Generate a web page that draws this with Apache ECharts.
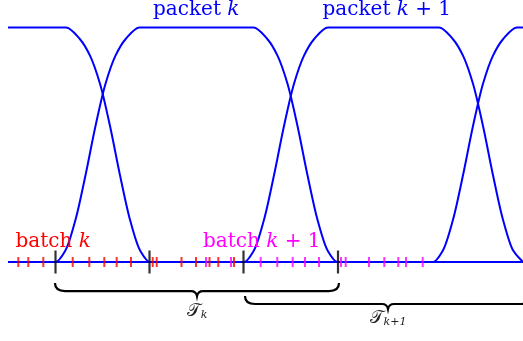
<!DOCTYPE html>
<html><head><meta charset="utf-8">
<script src="https://cdn.jsdelivr.net/npm/echarts@6/dist/echarts.min.js"></script>
<style>html,body{margin:0;padding:0;background:#fff}#c{width:523px;height:341px}</style>
</head><body><div id="c"></div>
<script>
// ---- data (x in time units along the axis, y in normalized level: 0 = idle, 1 = packet) ----
const xRange = [8, 523];
// shape of one edge: [offset along edge, level]
const edgeProfile = [[0,0],[10,0.05],[20,0.18],[30,0.37],[40,0.58],[50,0.76],[60,0.88],[70,0.95],[84,1]];
const edgeWidth = 84;
// packets: rise start / fall start (null = outside the view)
const packetRise = [null, 55.5, 244, 433];
const packetFall = [66, 253.5, 439, null];
// batch boundaries (black ticks)
const batchBounds = [55.5, 149.5, 243.5, 338];
// arrival marks
const redMarks = [18.3, 28.3, 43.3, 72.7, 89.3, 104.3, 116.7, 131, 152.7, 156.7, 181.5, 196, 209.5, 218.3, 234];
const magentaMarks = [206, 231, 260.7, 277.3, 292.7, 305, 319, 341, 345.7, 369, 384.3, 398.3, 406, 422.7];
// braces: [from, to, level]
const braces = [[55, 339, -0.09], [245, 531, -0.145]];
const braceLabels = [['𝒯', 'k', 197, -0.209], ['𝒯', 'k+1', 388, -0.239]];
// text labels: [rich text, x, level, color]
const textLabels = [
  ['{r|batch }{i|k}', 15.5, 0.043, '#ff0000'],
  ['{r|batch }{i|k}{r| + 1}', 203, 0.043, '#ff00ff'],
  ['{r|packet }{i|k}', 153, 1.033, '#0000ff'],
  ['{r|packet }{i|k}{r| + 1}', 322.5, 1.033, '#0000ff']
];

function pulseData(rise, fall) {
  const pts = [];
  if (rise === null) pts.push([xRange[0], 1]);
  else {
    pts.push([xRange[0], 0]);
    edgeProfile.forEach(p => pts.push([rise + p[0], p[1]]));
  }
  if (fall === null) pts.push([xRange[1], 1]);
  else {
    for (let i = edgeProfile.length - 1; i >= 0; i--) {
      pts.push([fall + edgeWidth - edgeProfile[i][0], edgeProfile[i][1]]);
    }
    if (fall + edgeWidth < xRange[1]) pts.push([xRange[1], 0]);
  }
  return pts;
}

// monotone cubic path through pixel points
function monotonePath(P) {
  const n = P.length, d = [], m = [];
  for (let i = 0; i < n - 1; i++) d.push((P[i + 1][1] - P[i][1]) / (P[i + 1][0] - P[i][0]));
  for (let i = 0; i < n; i++) {
    if (i === 0) m.push(d[0]);
    else if (i === n - 1) m.push(d[n - 2]);
    else if (d[i - 1] * d[i] <= 0) m.push(0);
    else {
      const h0 = P[i][0] - P[i - 1][0], h1 = P[i + 1][0] - P[i][0];
      const w1 = 2 * h1 + h0, w2 = h1 + 2 * h0;
      m.push((w1 + w2) / (w1 / d[i - 1] + w2 / d[i]));
    }
  }
  let s = `M${P[0][0]},${P[0][1]}`;
  for (let i = 0; i < n - 1; i++) {
    const h = (P[i + 1][0] - P[i][0]) / 3;
    s += ` C${P[i][0] + h},${P[i][1] + m[i] * h} ${P[i + 1][0] - h},${P[i + 1][1] - m[i + 1] * h} ${P[i + 1][0]},${P[i + 1][1]}`;
  }
  return s;
}

const series = [];
series.push({type: 'line', data: [[xRange[0], 0], [xRange[1], 0]], symbol: 'none',
  lineStyle: {color: '#0000ff', width: 2}, z: 2, silent: true});
series.push({type: 'custom', data: packetRise.map((r, i) => [i]), z: 2, silent: true, clip: false,
  renderItem: function (params, api) {
    const i = params.dataIndex;
    const pts = pulseData(packetRise[i], packetFall[i]).map(p => api.coord(p));
    return {type: 'path', shape: {pathData: monotonePath(pts)},
      style: {stroke: '#0000ff', lineWidth: 2, fill: null}};
  }});
series.push({type: 'scatter', data: redMarks.map(x => [x, 0]), symbol: 'rect', symbolSize: [2, 10],
  itemStyle: {color: '#ff0000'}, z: 3, silent: true});
series.push({type: 'scatter', data: magentaMarks.map(x => [x, 0]), symbol: 'rect', symbolSize: [2, 10],
  itemStyle: {color: '#ff00ff'}, z: 3, silent: true});
series.push({type: 'scatter', data: batchBounds.map(x => [x, 0]), symbol: 'rect', symbolSize: [2.2, 23],
  itemStyle: {color: '#000000'}, z: 4, silent: true});
series.push({type: 'custom', data: braces, z: 4, silent: true, clip: false,
  renderItem: function (params, api) {
    const a = api.coord([api.value(0), api.value(2)]);
    const b = api.coord([api.value(1), api.value(2)]);
    const d = 8, r = 10, tip = 5, tw = 6;
    const xm = (a[0] + b[0]) / 2, yt = a[1], yb = a[1] + d;
    const path = `M${a[0]},${yt} Q${a[0]},${yb} ${a[0] + r},${yb} L${xm - tw},${yb} Q${xm - 1},${yb} ${xm},${yb + tip} Q${xm + 1},${yb} ${xm + tw},${yb} L${b[0] - r},${yb} Q${b[0]},${yb} ${b[0]},${yt}`;
    return {type: 'path', shape: {pathData: path}, style: {stroke: '#000', lineWidth: 2.2, fill: null}};
  }});
series.push({type: 'custom', data: braceLabels, z: 5, silent: true, clip: false,
  renderItem: function (params, api) {
    const item = braceLabels[params.dataIndex];
    const p = api.coord([item[2], item[3]]);
    return {type: 'text', x: p[0], y: p[1], style: {
      text: '{t|' + item[0] + '}{s|' + item[1] + '}', align: 'center', verticalAlign: 'middle',
      rich: {t: {fontFamily: 'DejaVu Serif', fontSize: 18, fill: '#222'},
             s: {fontFamily: 'DejaVu Serif', fontStyle: 'italic', fontSize: 11, fill: '#222', padding: [9, 0, 0, 0]}}}};
  }});
series.push({type: 'custom', data: textLabels.map(t => [t[1], t[2]]), z: 5, silent: true, clip: false,
  renderItem: function (params, api) {
    const item = textLabels[params.dataIndex];
    const p = api.coord([api.value(0), api.value(1)]);
    return {type: 'text', x: p[0], y: p[1], style: {
      text: item[0], align: 'left', verticalAlign: 'bottom',
      rich: {r: {fontFamily: 'DejaVu Serif', fontSize: 20, fill: item[3], lineHeight: 20},
             i: {fontFamily: 'DejaVu Serif', fontStyle: 'italic', fontSize: 20, fill: item[3], lineHeight: 20}}}};
  }});

const chart = echarts.init(document.getElementById('c'), null, {renderer: 'canvas'});
chart.setOption({
  animation: false,
  backgroundColor: '#ffffff',
  grid: {left: 0, right: 0, top: 0, bottom: 0},
  xAxis: {type: 'value', min: 0, max: 523, show: false},
  yAxis: {type: 'value', min: -79 / 234.5, max: 262 / 234.5, show: false},
  series: series
});
</script></body></html>
